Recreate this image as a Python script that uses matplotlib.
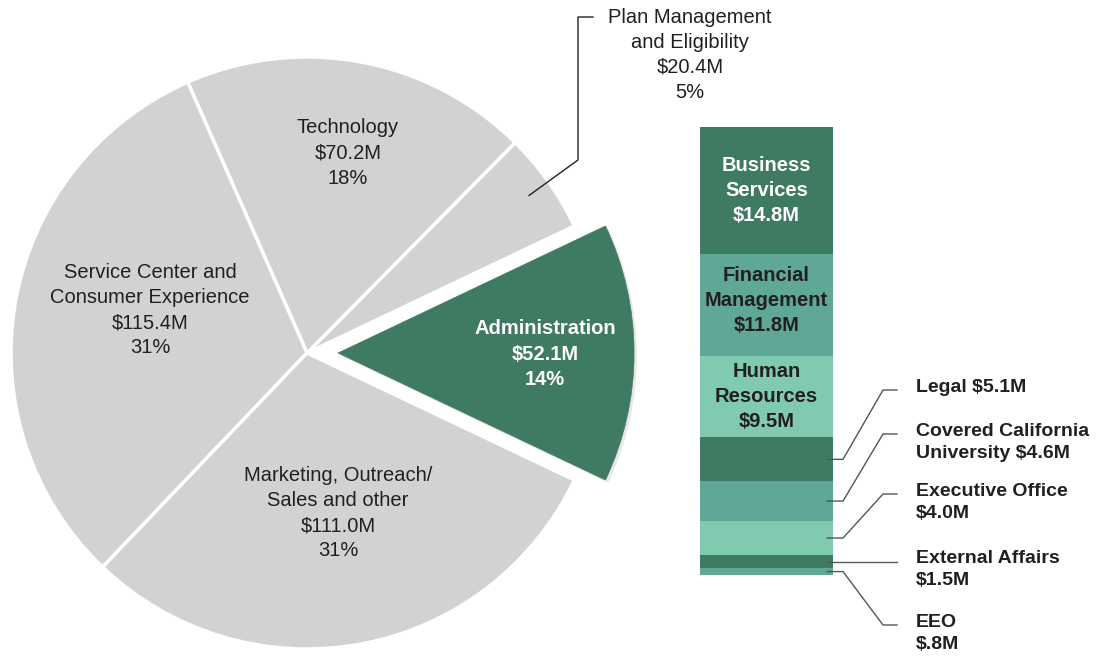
import numpy as np
import matplotlib
matplotlib.use("Agg")
import matplotlib.pyplot as plt
import matplotlib.patheffects as pe

plt.rcParams['font.family'] = ['Liberation Sans', 'DejaVu Sans']

# pie data (budget by area, $M)
pie_names = ["Administration", "Plan Management\nand Eligibility", "Technology",
             "Service Center and\nConsumer Experience", "Marketing, Outreach/\nSales and other"]
pie_values = [52.1, 20.4, 70.2, 115.4, 111.0]
pie_pcts = [14, 5, 18, 31, 31]

# administration breakdown ($M), top to bottom
bar_names = ["Business\nServices", "Financial\nManagement", "Human\nResources", "Legal",
             "Covered California\nUniversity", "Executive Office\n", "External Affairs\n", "EEO\n"]
bar_values = [14.8, 11.8, 9.5, 5.1, 4.6, 4.0, 1.5, 0.8]

GREY = "#d1d2d4"
DARK = "#3f7a63"
MID = "#5fa898"
LIGHT = "#80cbb0"
TXT = "#231f20"

W, H = 1105, 656
fig = plt.figure(figsize=(W / 100, H / 100), dpi=100)
fig.patch.set_facecolor("white")

# ---- pie ----
cx, cy, r = 307, 353, 296
lim = 1.2
half = r * lim
ax_pie = fig.add_axes([(cx - half) / W, (H - cy - half) / H, 2 * half / W, 2 * half / H])
admin_angle = 360 * pie_values[0] / sum(pie_values)
wedges, _ = ax_pie.pie(pie_values, startangle=-admin_angle / 2, counterclock=True,
                       colors=[DARK, GREY, GREY, GREY, GREY],
                       explode=[0.105, 0, 0, 0, 0], radius=1,
                       wedgeprops=dict(edgecolor="white", linewidth=2.5))
wedges[0].set_edgecolor(DARK)
wedges[0].set_linewidth(0.5)
wedges[0].set_path_effects([pe.SimplePatchShadow(offset=(2, -2), shadow_rgbFace="#888888", alpha=0.2),
                            pe.Normal()])
ax_pie.set_xlim(-lim, lim)
ax_pie.set_ylim(-lim, lim)
ax_pie.set_aspect("equal")
ax_pie.axis("off")

# ---- stacked bar ----
bx0, bx1, by0, by1 = 700, 833, 127, 575
ax_bar = fig.add_axes([bx0 / W, (H - by1) / H, (bx1 - bx0) / W, (by1 - by0) / H])
bar_colors = [DARK, MID, LIGHT, DARK, MID, LIGHT, DARK, MID]
bottoms = np.concatenate([[0], np.cumsum(bar_values)[:-1]])
ax_bar.bar([0.5] * len(bar_values), bar_values, bottom=bottoms, width=1,
           color=bar_colors, edgecolor="none")
ax_bar.set_xlim(0, 1)
ax_bar.set_ylim(sum(bar_values), 0)
ax_bar.axis("off")

inner_col = ["white", TXT, TXT]
inner_nudge = [0, -0.5, 0]
for i in range(3):
    ax_bar.text(0.5, bottoms[i] + bar_values[i] / 2 + inner_nudge[i],
                f"{bar_names[i]}\n${bar_values[i]:.1f}M",
                ha="center", va="center", fontsize=14.5, fontweight="bold",
                color=inner_col[i], linespacing=1.38)

# ---- overlay in pixel coords for labels and leaders ----
ax = fig.add_axes([0, 0, 1, 1])
ax.set_xlim(0, W)
ax.set_ylim(H, 0)
ax.axis("off")
ax.patch.set_alpha(0)


def to_px(src_ax, x, y):
    return ax.transData.inverted().transform(src_ax.transData.transform((x, y)))


# pie labels
lab_pos = [(545, 354), None, (348, 153), (150, 310), (338, 513)]
for i, pos in enumerate(lab_pos):
    if pos is None:
        continue
    col = "white" if i == 0 else TXT
    fw = "bold" if i == 0 else "normal"
    ax.text(pos[0], pos[1], f"{pie_names[i]}\n${pie_values[i]:.1f}M\n{pie_pcts[i]}%",
            ha="center", va="center", fontsize=14.5, color=col, fontweight=fw, linespacing=1.42)

# plan management callout
w = wedges[1]
mid = np.deg2rad((w.theta1 + w.theta2) / 2)
sx, sy = to_px(ax_pie, 0.92 * np.cos(mid), 0.92 * np.sin(mid))
ax.plot([sx, 578, 578, 593], [sy, 160, 17, 17], color=TXT, lw=1)
ax.text(690, 55, f"{pie_names[1]}\n${pie_values[1]:.1f}M\n{pie_pcts[1]}%",
        ha="center", va="center", fontsize=14.5, color=TXT, linespacing=1.38)

# small admin units with leader lines
label_y = [390, 434, 494, 561, 625]
for k, ly in zip(range(3, 8), label_y):
    _, y0 = to_px(ax_bar, 1, bottoms[k] + bar_values[k] / 2)
    if abs(y0 - ly) < 3:
        ax.plot([827, 897], [y0, y0], color="#555555", lw=1)
    else:
        ax.plot([827, 843, 883, 897], [y0, y0, ly, ly], color="#555555", lw=1)
    amount = "$.8M" if bar_values[k] < 1 else f"${bar_values[k]:.1f}M"
    if bar_names[k].endswith("\n"):
        txt = bar_names[k] + amount
    else:
        txt = f"{bar_names[k]} {amount}"
    ax.text(916, ly - 11, txt, ha="left", va="top", fontsize=14, fontweight="bold",
            color=TXT, linespacing=1.4)

fig.savefig("out.png", dpi=100, facecolor="white")
